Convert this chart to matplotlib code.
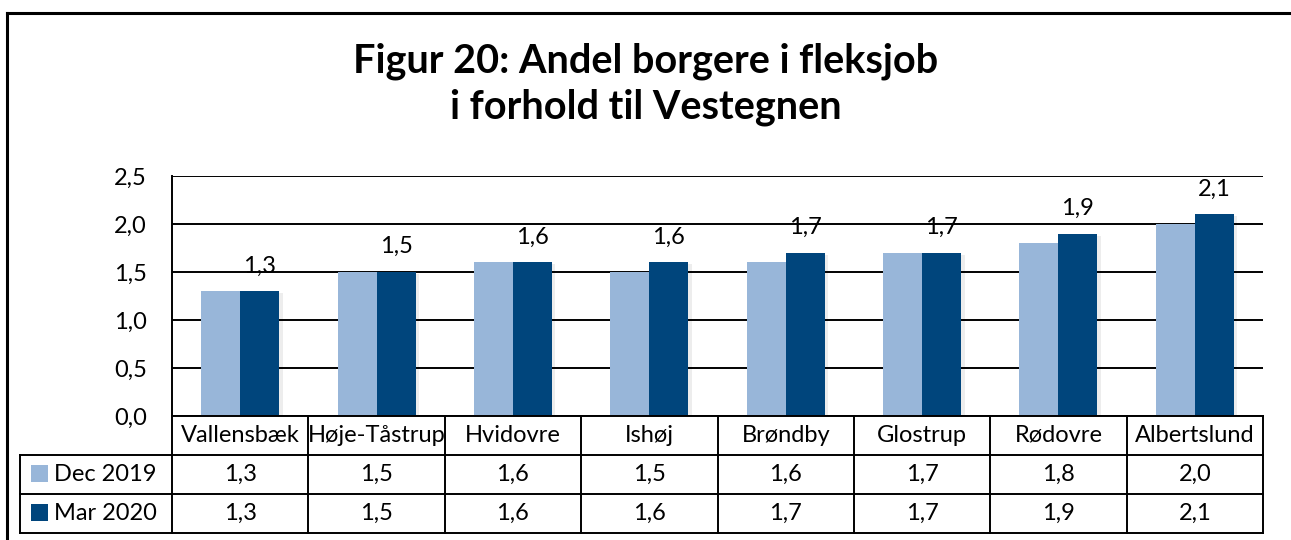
import matplotlib
matplotlib.use("Agg")
import matplotlib.pyplot as plt
import matplotlib.transforms as mtransforms
from matplotlib.lines import Line2D
from matplotlib.patches import Rectangle
import matplotlib.patheffects as pe

plt.rcParams['font.family'] = ['Lato', 'DejaVu Sans']

categories = ["Vallensbæk", "Høje-Tåstrup", "Hvidovre", "Ishøj", "Brøndby", "Glostrup", "Rødovre", "Albertslund"]
series_names = ["Dec 2019", "Mar 2020"]
dec_2019 = [1.3, 1.5, 1.6, 1.5, 1.6, 1.7, 1.8, 2.0]
mar_2020 = [1.3, 1.5, 1.6, 1.6, 1.7, 1.7, 1.9, 2.1]
yticks = [0.0, 0.5, 1.0, 1.5, 2.0, 2.5]
title_lines = ["Figur 20: Andel borgere i fleksjob", "i forhold til Vestegnen"]

light = "#98B6D9"
dark = "#00457C"
FS = 17

W, H = 1291, 540
fig = plt.figure(figsize=(W / 100, H / 100), dpi=100)

def fx(px):
    return px / W

def fy(py):
    return 1 - py / H

ax_l, ax_r, ax_t, ax_b = 172, 1263, 176, 416
ax = fig.add_axes([fx(ax_l), fy(ax_b), fx(ax_r - ax_l), (ax_b - ax_t) / H])

n = len(categories)
x = list(range(n))
bw = 0.286
shadow = [pe.SimplePatchShadow(offset=(2.5, -1.5), shadow_rgbFace="#000000", alpha=0.07), pe.Normal()]
b1 = ax.bar([i - bw / 2 for i in x], dec_2019, width=bw, color=light, zorder=3)
b2 = ax.bar([i + bw / 2 for i in x], mar_2020, width=bw, color=dark, zorder=3)
for b in list(b1) + list(b2):
    b.set_path_effects(shadow)

def fmt(v):
    return f"{v:.1f}".replace(".", ",")

for i, v in enumerate(mar_2020):
    ax.annotate(fmt(v), (i + bw / 2, v), xytext=(0, 13.5), textcoords="offset points",
                ha="center", va="baseline", fontsize=FS, color="#000000", zorder=5)

ax.set_xlim(-0.5, n - 0.5)
ax.set_ylim(0, 2.5)
ax.set_yticks(yticks)
ax.set_yticklabels([fmt(t) for t in yticks], fontsize=FS)
ax.tick_params(axis="y", length=0, pad=18)
ax.set_xticks([])
ax.grid(axis="y", color="#000000", linewidth=1.4, zorder=1)
for s in ["top", "right", "bottom"]:
    ax.spines[s].set_visible(False)
ax.spines["left"].set_linewidth(1.4)
ax.spines["left"].set_color("#000000")

# data table
trans = mtransforms.blended_transform_factory(ax.transData, ax.transAxes)
axh = ax_b - ax_t
row_edges_px = [416, 455, 494, 533]
row_edges = [(ax_b - p) / axh for p in row_edges_px]
leg_left = (20 - ax_l) / (ax_r - ax_l)
lw = 1.4
kw = dict(color="#000000", linewidth=lw, clip_on=False, zorder=6)

ax.add_line(Line2D([-0.5, n - 0.5], [row_edges[0]] * 2, transform=trans, **kw))
for yv in row_edges[1:]:
    ax.add_line(Line2D([leg_left, 1], [yv, yv], transform=ax.transAxes, **kw))
for k in range(n + 1):
    ax.add_line(Line2D([k - 0.5, k - 0.5], [row_edges[0], row_edges[3]], transform=trans, **kw))
ax.add_line(Line2D([leg_left, leg_left], [row_edges[1], row_edges[3]], transform=ax.transAxes, **kw))

for i, c in enumerate(categories):
    ax.text(i, (row_edges[0] + row_edges[1]) / 2, c, transform=trans, ha="center", va="center",
            fontsize=FS, clip_on=False)
for r, (vals, name, col) in enumerate([(dec_2019, series_names[0], light), (mar_2020, series_names[1], dark)]):
    yc = (row_edges[r + 1] + row_edges[r + 2]) / 2
    for i, v in enumerate(vals):
        ax.text(i, yc, fmt(v), transform=trans, ha="center", va="center", fontsize=FS, clip_on=False)
    ykey_top = row_edges[r + 1] - 10 / axh
    ax.add_patch(Rectangle(((31 - ax_l) / (ax_r - ax_l), ykey_top - 17 / axh), 17 / (ax_r - ax_l), 17 / axh,
                           transform=ax.transAxes, facecolor=col, edgecolor="none", clip_on=False, zorder=6))
    ax.text((54 - ax_l) / (ax_r - ax_l), yc, name, transform=ax.transAxes, ha="left", va="center",
            fontsize=FS, clip_on=False)

fig.text(0.5, fy(72), title_lines[0], ha="center", va="baseline", fontsize=28.5, fontweight="bold")
fig.text(0.5, fy(118), title_lines[1], ha="center", va="baseline", fontsize=28.5, fontweight="bold")

fig.add_artist(Line2D([fx(7), 1.0], [fy(13), fy(13)], transform=fig.transFigure, color="#000000", linewidth=2.2))
fig.add_artist(Line2D([fx(7), fx(7)], [fy(13), 0.0], transform=fig.transFigure, color="#000000", linewidth=2.2))

fig.savefig("out.png", dpi=100, facecolor="white")
